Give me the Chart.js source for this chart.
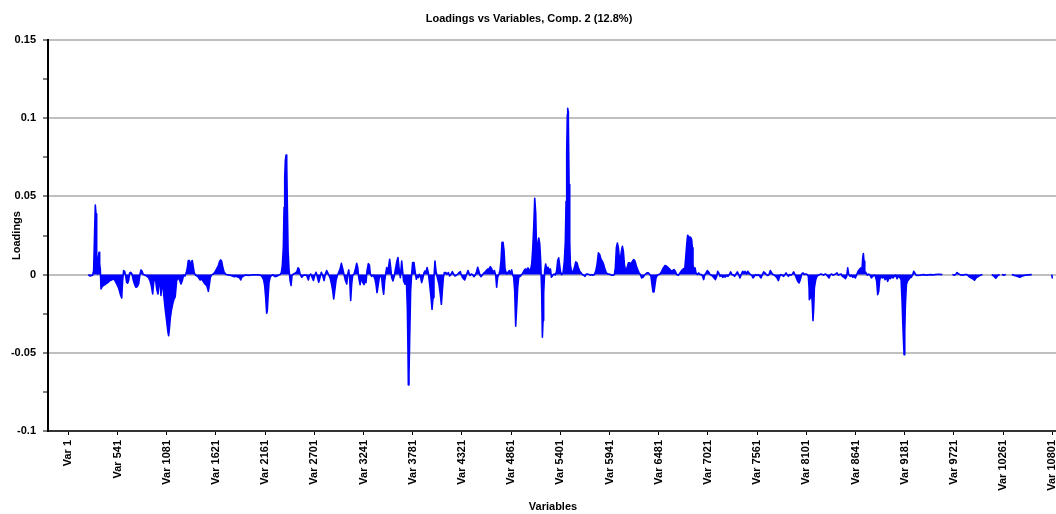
<!DOCTYPE html>
<html>
<head>
<meta charset="utf-8">
<script src="https://cdn.jsdelivr.net/npm/chart.js@4.4.1/dist/chart.umd.min.js"></script>
<style>
  html, body { margin: 0; padding: 0; background: #ffffff; overflow: hidden; }
  #wrap { width: 1104px; height: 514px; }
</style>
</head>
<body>
<div id="wrap"><canvas id="c" width="1104" height="514"></canvas></div>
<script>
// Titles
const chartTitle = 'Loadings vs Variables, Comp. 2 (12.8%)';
const xAxisTitle = 'Variables';
const yAxisTitle = 'Loadings';

// Category ticks on the variable axis
const xTickVars = [1, 541, 1081, 1621, 2161, 2701, 3241, 3781, 4321, 4861, 5401,
                   5941, 6481, 7021, 7561, 8101, 8641, 9181, 9721, 10261, 10801];
const xTickLabels = ['Var 1', 'Var 541', 'Var 1081', 'Var 1621', 'Var 2161', 'Var 2701',
                     'Var 3241', 'Var 3781', 'Var 4321', 'Var 4861', 'Var 5401', 'Var 5941',
                     'Var 6481', 'Var 7021', 'Var 7561', 'Var 8101', 'Var 8641', 'Var 9181',
                     'Var 9721', 'Var 10261', 'Var 10801'];

// Loadings axis ticks (unlabelled entries are minor ticks)
const yTickValues = [-0.1, -0.075, -0.05, -0.025, 0, 0.025, 0.05, 0.075, 0.1, 0.125, 0.15];
const yTickLabels = ['-0.1', '', '-0.05', '', '0', '', '0.05', '', '0.1', '', '0.15'];

// Component 2 loadings: [variable index, loading]; null marks a break in the trace
const loadingPoints = [
  [220,0],[239,-0.0009],[268,-0.0004],[279,0.0026],[290,0.028],[297,0.0444],[305,0.0388],[312,0.0026],
  [323,0.0004],[330,0.011],[338,0.0143],[345,0.0068],[352,0.0036],[360,-0.0092],[371,-0.0077],[385,-0.007],
  [404,-0.0064],[422,-0.0055],[440,-0.0049],[458,-0.0038],[477,-0.0034],[495,-0.0028],[513,-0.0038],
  [532,-0.006],[550,-0.0081],[561,-0.0102],[576,-0.0134],[587,-0.0149],[597,-0.0038],[608,0.0026],
  [619,0.0021],[630,-0.0006],[641,-0.0049],[652,-0.0055],[663,-0.0038],[674,0.0009],[685,0.0015],
  [700,0.0004],[715,-0.0038],[729,-0.0064],[744,-0.0081],[758,-0.0077],[773,-0.006],[788,0.0004],
  [799,0.003],[810,0.0021],[824,0],[843,-0.0004],[861,-0.0009],[879,-0.0017],[897,-0.0038],[912,-0.007],
  [927,-0.0124],[938,-0.0049],[949,-0.0017],[960,-0.0038],[971,-0.0092],[985,-0.0124],[996,-0.006],
  [1007,-0.0038],[1018,-0.0134],[1029,-0.0049],[1040,-0.0081],[1051,-0.0145],[1062,-0.0209],[1073,-0.0262],
  [1084,-0.0315],[1095,-0.0369],[1102,-0.039],[1110,-0.0347],[1121,-0.0273],[1132,-0.023],[1146,-0.0188],
  [1161,-0.0156],[1174,-0.0142],
  [1190,-0.0038],[1209,-0.0017],[1223,-0.0038],[1238,-0.006],[1252,-0.0038],[1267,-0.0002],[1282,-0.0009],
  [1296,0.0013],[1307,0.0043],[1318,0.009],[1329,0.009],[1340,0.003],[1351,0.0085],[1362,0.009],[1373,0.0047],
  [1384,0.0009],[1399,-0.0004],[1413,-0.0009],[1428,-0.0017],[1446,-0.0034],[1465,-0.003],[1483,-0.0045],
  [1501,-0.006],[1520,-0.007],[1538,-0.0107],[1549,-0.0064],[1560,-0.0017],[1574,-0.0002],[1593,0.0004],
  [1611,0.0017],[1629,0.0036],[1648,0.0058],[1662,0.0085],[1673,0.0094],[1684,0.0085],[1695,0.0051],
  [1710,0.0017],[1728,0.0002],[1750,-0.0002],[1776,-0.0004],[1801,-0.0009],[1823,-0.0013],[1845,-0.0011],
  [1867,-0.0017],[1882,-0.0021],[1893,-0.0034],[1904,-0.0017],[1922,-0.0009],[1948,-0.0002],[1977,-0.0006],
  [2014,-0.0002],[2050,-0.0002],[2087,-0.0002],[2116,-0.0006],[2131,-0.0017],[2145,-0.0034],[2156,-0.007],
  [2167,-0.0145],[2178,-0.0247],[2185,-0.023],[2193,-0.0145],[2204,-0.0049],[2218,-0.0013],
  [2244,-0.0002],[2270,-0.0013],[2288,-0.0011],[2306,-0.0004],[2325,0],[2339,0.0013],[2350,0.0058],
  [2361,0.0175],[2369,0.043],[2376,0.0622],[2383,0.0729],[2391,0.0765],[2398,0.0708],[2405,0.043],
  [2413,0.0153],[2424,0.0026],[2435,-0.0038],[2446,-0.007],[2456,-0.0006],[2471,0.0004],[2489,0.0009],
  [2508,0.0017],[2522,0.0043],[2533,0.0036],[2544,0.0004],[2563,-0.0017],[2581,-0.0006],[2599,-0.0002],
  [2617,-0.0006],[2636,-0.0034],[2647,-0.0006],[2661,0.0004],[2676,-0.0017],[2691,-0.0038],[2705,-0.0006],
  [2720,0.0015],[2735,-0.0017],[2749,-0.0049],[2764,-0.0017],[2778,0.0015],[2793,-0.0006],[2808,-0.0038],
  [2822,0.0004],[2837,0.0026],[2855,0.0004],[2874,-0.0021],[2888,-0.0055],[2903,-0.0102],[2914,-0.0156],
  [2925,-0.0102],[2939,-0.0038],[2954,-0.0006],[2969,0.0015],[2983,0.0036],[2998,0.0072],[3013,0.0036],
  [3027,0],[3042,-0.0038],[3057,-0.006],[3068,0.0004],[3079,0.003],[3090,-0.0038],[3100,-0.0166],
  [3111,-0.006],[3122,-0.0006],[3137,0.0004],[3152,0.0036],[3166,0.0072],[3177,0.0047],[3188,-0.0017],
  [3203,-0.0064],[3218,-0.0017],[3232,-0.0049],[3247,-0.0064],[3261,-0.0017],
  [3268,-0.0051],[3279,0.0023],[3294,0.007],[3305,0.0062],[3316,0.0002],[3330,-0.0011],[3349,-0.0004],
  [3367,-0.003],[3378,-0.0062],[3389,-0.0115],[3403,-0.0062],[3414,-0.0019],[3429,-0.0009],[3440,-0.0019],
  [3451,-0.0083],[3462,-0.0126],[3473,-0.004],[3484,0.0002],[3495,0.0045],[3506,0.0013],[3517,0.0055],
  [3528,0.0098],[3539,0.0045],[3550,-0.0019],[3564,-0.004],[3579,-0.0009],[3594,0.0045],[3608,0.0087],
  [3619,0.0109],[3630,0.0045],[3645,-0.0019],[3660,0.0087],[3670,0.0023],[3681,-0.004],[3696,-0.0062],
  [3711,-0.003],[3722,-0.0211],[3729,-0.0488],[3733,-0.0706],[3740,-0.0637],[3747,-0.0424],[3758,-0.0104],
  [3769,0.0002],[3780,0.0077],[3795,0.0077],[3806,0.0023],[3821,-0.003],[3831,-0.0009],[3842,-0.0019],
  [3853,0.0002],[3868,-0.0019],[3879,-0.0051],[3894,-0.0019],[3905,0.0013],[3916,0.0023],[3927,0.0013],
  [3938,0.0045],[3952,0.0013],[3967,-0.0062],[3982,-0.0147],[3993,-0.0222],[4004,-0.0147],[4014,-0.0019],
  [4025,0.0087],[4036,0.0023],[4051,-0.0019],[4069,-0.0062],[4084,-0.0126],[4095,-0.019],[4106,-0.0104],
  [4117,-0.0019],[4128,0.0013],[4143,0.0013],[4157,0.0002],[4172,0.0013],[4186,-0.0009],[4201,0.0002],
  [4216,0.0019],[4230,0.0002],[4245,-0.0009],[4260,-0.0004],[4274,0.0002],[4289,0.0013],[4304,0.0019],
  [4311,0.0004],[4326,-0.0017],[4340,-0.0028],[4351,-0.0034],[4362,-0.0017],[4373,0.0004],[4388,0.0026],
  [4399,0.0009],[4410,-0.0006],[4424,0.0004],[4439,-0.0002],[4454,-0.0013],[4468,-0.0002],[4483,0.0021],
  [4494,0.0047],[4505,0.0026],[4520,-0.0006],[4531,-0.0013],[4545,-0.0002],[4560,0.0009],[4574,0.0015],
  [4589,0.0026],[4604,0.0036],[4618,0.0036],[4633,0.0051],[4648,0.0036],[4662,0.0015],[4677,0.0026],
  [4692,-0.0006],[4702,-0.0081],[4713,-0.0017],[4728,0.0004],[4739,0.0026],[4750,0.009],[4761,0.0207],
  [4772,0.0207],[4783,0.0153],[4794,0.0036],[4812,0.0004],[4827,0.0015],[4842,0.0026],[4856,0.0004],
  [4867,0.003],[4878,-0.0002],[4889,-0.0017],[4900,-0.0102],[4911,-0.033],[4922,-0.0209],[4933,-0.0081],
  [4944,-0.0017],[4959,-0.0013],[4973,-0.0002],[4988,0.0009],[5003,0.0026],[5017,0.0036],[5032,0.003],
  [5046,0.0043],[5061,0.0026],[5076,0.0036],[5087,0.0068],[5098,0.0164],[5109,0.0303],[5120,0.0488],
  [5131,0.0388],[5142,0.009],[5153,0.0196],[5164,0.0234],[5175,0.0196],[5185,0.009],[5196,-0.0102],
  [5204,-0.0401],[5211,-0.0294],[5218,-0.0124],[5229,0.0026],[5240,0.0068],[5251,0.0036],[5266,0.0047],
  [5281,0.0026],[5292,0.0036],[5303,-0.0017],[5317,-0.0006],[5332,0.0004],[5347,-0.0002],[5361,0.0026],
  [5372,0.009],[5383,0.0107],
  [5402,0.0021],[5416,0],[5431,0.0011],[5445,0.0085],[5456,0.0213],[5464,0.0469],[5471,0.0789],
  [5478,0.1023],[5482,0.1063],[5486,0.1044],[5489,0.098],[5497,0.0575],[5504,0.0213],[5511,0.0064],
  [5526,0.0011],[5541,0.0021],[5555,0.0043],[5570,0.0081],[5584,0.0075],[5599,0.0043],[5614,0.0021],
  [5628,0.0011],[5643,0],[5658,-0.0004],[5672,-0.0011],[5687,0.0004],[5702,0.0004],[5716,0],[5731,-0.0004],
  [5745,0],[5760,-0.0004],[5775,0],[5789,0.0021],[5804,0.0064],[5819,0.0139],[5833,0.0128],[5848,0.0096],
  [5863,0.0085],[5877,0.0064],[5892,0.0032],[5906,0.0011],[5921,0.0004],[5936,0.0004],[5950,0],
  [5965,-0.0004],[5980,-0.0004],[5994,0],[6005,0.0043],[6016,0.017],[6027,0.0202],[6038,0.017],
  [6049,0.0107],[6060,0.0096],[6071,0.0149],[6082,0.0181],[6093,0.0149],[6104,0.0064],[6119,0.0021],
  [6133,0.0043],[6148,0.0075],[6163,0.0075],[6177,0.0068],[6192,0.0085],[6207,0.0096],[6221,0.0085],
  [6236,0.0053],[6250,0.0032],[6265,0.0011],[6280,0],[6294,-0.0021],[6309,-0.0017],[6324,-0.0004],
  [6338,0.0004],[6353,0.0011],[6368,0.0011],[6382,0],
  [6396,-0.0011],[6407,-0.0064],[6418,-0.0111],[6429,-0.0111],[6440,-0.0064],[6451,-0.0021],[6466,-0.0004],
  [6480,0],[6495,0.0004],[6513,0.0021],[6531,0.0043],[6550,0.0058],[6568,0.0053],[6586,0.0043],
  [6605,0.0032],[6619,0.0021],[6634,0.0026],[6648,0.0032],[6663,0.0021],[6678,0],[6696,-0.0004],
  [6714,0.0011],[6733,0.0026],[6751,0.0038],[6766,0.0032],[6777,0.0107],[6788,0.0192],[6798,0.0251],
  [6809,0.0245],[6820,0.0234],[6831,0.0239],[6842,0.0224],[6850,0.0171],[6857,0.0064],[6868,0.0021],
  [6879,0.0043],[6890,0.0011],[6905,0],[6919,0.0011],[6934,0],[6949,0],[6963,-0.0011],[6974,-0.0032],
  [6985,-0.0004],[7000,0.0011],[7014,0.0026],[7029,0.0017],[7044,0],[7058,-0.0004],[7073,-0.0011],
  [7088,-0.0021],[7102,-0.0032],[7117,-0.0011],[7128,0.0021],[7139,0.0011],[7153,-0.0011],[7168,-0.0004],
  [7183,-0.0017],[7197,-0.0011],[7212,-0.0015],[7227,-0.0004],[7241,-0.0011],[7256,0],[7270,0.0017],
  [7285,0],[7300,-0.0004],[7314,-0.0011],[7329,0.0004],[7344,0.0017],[7358,0],[7373,-0.0021],[7388,0.0004],
  [7402,0.0021],[7417,0.0011],
  [7428,0.0021],[7443,0.0004],[7457,0.0021],[7472,0.0011],[7487,0],[7501,-0.0004],[7516,-0.0021],
  [7530,-0.0011],[7545,0],[7560,-0.0006],[7574,0],[7589,-0.0011],[7604,-0.0021],[7618,0],[7633,0.0017],
  [7648,0.0011],[7662,0],[7677,-0.0006],[7691,0],[7706,0.0026],[7721,0.0011],[7735,0],[7750,-0.0004],
  [7765,-0.0011],[7779,-0.0021],[7794,-0.0038],[7809,-0.0011],[7823,0],[7838,-0.0006],[7852,-0.0011],
  [7867,0],[7878,0.0011],[7889,0],[7904,-0.0011],[7918,0],[7933,-0.0004],[7948,0.0004],[7962,0.0017],
  [7977,0],[7991,-0.0021],[8006,-0.0043],[8021,-0.0053],[8035,-0.0032],[8050,0.0004],[8065,0.0011],
  [8079,0],[8094,0.0004],[8109,0],[8123,-0.0011],[8131,-0.0085],[8134,-0.016],[8145,-0.0149],
  [8156,-0.0085],[8167,-0.0192],[8174,-0.0294],[8182,-0.0213],[8189,-0.0085],[8204,-0.0032],[8218,-0.0011],
  [8233,-0.0004],[8248,0],[8262,0.0004],[8277,0],[8292,-0.0004],[8306,0.0004],[8321,0],[8335,-0.0011],
  [8350,-0.0021],[8365,0],[8379,0.0004],[8394,-0.0004],[8409,0],[8423,0.0004],[8438,0.0011],[8452,-0.0004],
  [8467,0],[8482,0.0004],[8496,-0.0011],
  [8515,-0.0017],[8530,-0.0026],[8544,-0.0011],[8555,0.0043],[8566,0],[8581,-0.0011],[8595,-0.0004],
  [8610,-0.0017],[8625,-0.0011],[8639,-0.0021],[8654,0],[8669,0.0021],[8683,0.0032],[8698,0.0043],
  [8709,0.0011],[8720,0.0107],[8727,0.0134],[8734,0.0085],[8742,0.0021],[8756,0.0011],[8771,-0.0004],
  [8786,0.0004],[8800,-0.0004],[8815,-0.0021],[8830,-0.0011],[8844,-0.0004],[8859,-0.0011],[8873,-0.0043],
  [8884,-0.0128],[8895,-0.0107],[8906,-0.0032],[8921,-0.0011],[8936,-0.0021],[8950,-0.0011],[8965,-0.0032],
  [8980,-0.0017],[8994,-0.0043],[9009,-0.0021],[9024,-0.0026],[9038,-0.0011],[9053,-0.0021],[9067,-0.0011],
  [9082,-0.0004],[9097,-0.0026],[9111,-0.0011],[9126,-0.0017],[9141,-0.0032],[9152,-0.0171],[9159,-0.0298],
  [9166,-0.0405],[9174,-0.0512],[9181,-0.0362],[9188,-0.0192],[9199,-0.0064],[9210,-0.0043],[9225,-0.0032],
  [9239,-0.0021],[9254,-0.0017],[9269,0],[9280,0.0021],[9291,0.0011],[9305,-0.0004],[9320,-0.0006],
  [9349,-0.0004],[9386,0],[9422,-0.0004],[9459,0],[9496,-0.0002],
  [9514,0],[9550,0.0002],[9594,0],[9620,null],
  [9704,0],[9726,-0.0004],[9741,0.0002],[9755,0.0013],[9770,0.0006],[9792,-0.0002],[9821,-0.0004],
  [9843,0],[9865,0],[9880,-0.0009],[9902,-0.0019],[9924,-0.0026],[9946,-0.0036],[9968,-0.0019],
  [9990,-0.0011],[10012,-0.0004],[10034,0],[10080,null],
  [10136,0],[10158,-0.0009],[10180,-0.0023],[10202,-0.0006],[10224,0],[10235,null],
  [10246,0],[10268,-0.0004],[10290,0],[10320,null],
  [10356,0],[10385,-0.0006],[10414,-0.0011],[10443,-0.0017],[10473,-0.0009],[10502,-0.0004],
  [10539,-0.0002],[10575,0],[10700,null],
  [10795,0],[10801,-0.0025]
];

Chart.defaults.font.family = "'Liberation Sans', Arial, Helvetica, sans-serif";
Chart.defaults.font.size = 11;
Chart.defaults.font.weight = 'bold';
Chart.defaults.color = '#000000';

const isMajorY = (i) => yTickLabels[i] !== '';

new Chart(document.getElementById('c'), {
  type: 'line',
  data: {
    datasets: [{
      label: yAxisTitle,
      data: loadingPoints.map(([v, l]) => ({ x: v, y: l })),
      borderColor: '#0000ff',
      backgroundColor: '#0000ff',
      borderWidth: 1.6,
      borderJoinStyle: 'round',
      fill: 'origin',
      pointRadius: 0,
      tension: 0,
      spanGaps: false
    }]
  },
  options: {
    responsive: false,
    animation: false,
    events: [],
    layout: { padding: { left: 0, right: 46, top: 0, bottom: 0 } },
    plugins: {
      legend: { display: false },
      tooltip: { enabled: false },
      title: {
        display: true,
        text: chartTitle,
        font: { size: 11, weight: 'bold' },
        color: '#000000',
        padding: { top: 12, bottom: 14.8 }
      }
    },
    scales: {
      x: {
        type: 'linear',
        min: -222,
        max: 10863,
        afterFit: (scale) => { scale.height = 83; },
        afterBuildTicks: (scale) => { scale.ticks = xTickVars.map(v => ({ value: v })); },
        ticks: {
          autoSkip: false,
          minRotation: 90,
          maxRotation: 90,
          padding: 5,
          font: { size: 11, weight: 'bold' },
          color: '#000000',
          callback: (value, index) => xTickLabels[index]
        },
        grid: {
          display: true,
          drawOnChartArea: false,
          drawTicks: true,
          tickLength: 4,
          tickColor: '#000000',
          tickWidth: 1
        },
        border: { display: true, color: '#333333', width: 2 },
        title: {
          display: true,
          text: xAxisTitle,
          font: { size: 11, weight: 'bold' },
          color: '#000000',
          padding: { top: 0, bottom: 0 }
        }
      },
      y: {
        type: 'linear',
        min: -0.1,
        max: 0.15,
        afterFit: (scale) => { scale.width = 48; },
        afterBuildTicks: (scale) => { scale.ticks = yTickValues.map(v => ({ value: v })); },
        ticks: {
          padding: 7,
          font: { size: 11, weight: 'bold' },
          color: '#000000',
          callback: (value, index) => yTickLabels[index]
        },
        grid: {
          color: (ctx) => isMajorY(ctx.index) ? '#c0c0c0' : 'rgba(0,0,0,0)',
          lineWidth: 2,
          drawTicks: true,
          tickLength: 5,
          tickColor: '#000000',
          tickWidth: 1
        },
        border: { display: true, color: '#000000', width: 2 },
        title: {
          display: true,
          text: yAxisTitle,
          font: { size: 11, weight: 'bold' },
          color: '#000000',
          padding: { top: 10.4, bottom: 0 }
        }
      }
    }
  }
});
</script>
</body>
</html>
